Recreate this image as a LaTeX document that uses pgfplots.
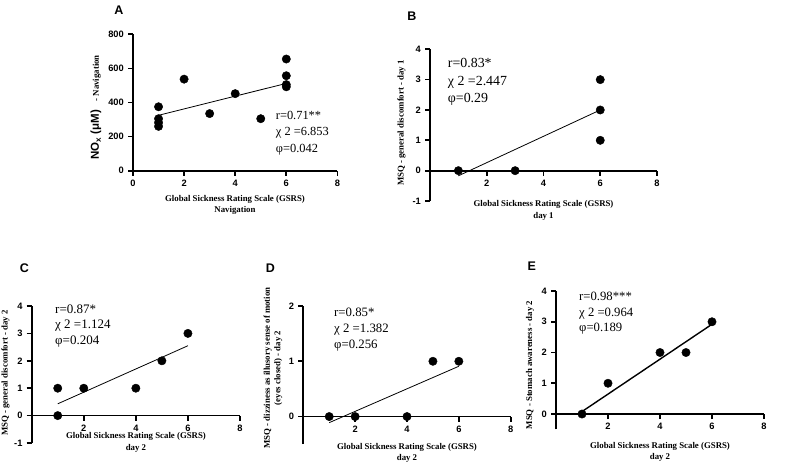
\documentclass[border=0pt]{standalone}
\usepackage{fontspec}
\setmainfont{Liberation Serif}
\setsansfont{Liberation Sans}
\usepackage{pgfplots}
\pgfplotsset{compat=1.18}

% GraphPad-like panel style
\pgfplotsset{
  gp/.style={
    scale only axis, anchor=south west,
    axis y line*=left,
    every axis/.append style={line width=1.7pt},
    x axis line style={line width=1.7pt, black},
    y axis line style={line width=1.7pt, black},
    tick style={line width=1.7pt, black},
    major tick length=5pt,
    tick align=outside,
    xmin=0, xmax=8,
    ticklabel style={font=\sffamily\bfseries\fontsize{9.3}{9.3}\selectfont},
    /pgf/number format/assume math mode=true,
    clip=false,
  },
  dots/.style={only marks, mark=*, mark size=4.2pt, black, line width=0.4pt},
  fit/.style={black, line width=0.8pt, no marks},
}
\tikzset{
  note/.style={anchor=west, inner sep=0pt, align=left},
  lab/.style={inner sep=0pt, align=center, font=\bfseries\fontsize{8.8}{11.4}\selectfont},
  letter/.style={inner sep=0pt, font=\sffamily\bfseries\fontsize{12.5}{12.5}\selectfont},
}

\begin{document}
\begin{tikzpicture}
\path[use as bounding box] (0,0) rectangle (797pt,474pt);

% ---------------- A
\begin{axis}[gp, at={(133pt,303.3pt)}, width=204.4pt, height=136.4pt,
  axis x line*=bottom,
  ymin=0, ymax=800, xtick={0,2,4,6,8}, ytick={0,200,400,600,800}]
\addplot[dots] coordinates {
  (1,375) (1,305) (1,282) (1,260) (2,537) (3,335) (4,452) (5,305)
  (6,655) (6,557) (6,505) (6,492)};
\addplot[fit] coordinates {(1,325) (6,512)};
\end{axis}

% ---------------- B
\begin{axis}[gp, at={(430pt,273pt)}, width=227pt, height=151.7pt,
  axis x line*=middle,
  ymin=-1, ymax=4, xtick={2,4,6,8}, ytick={-1,0,1,2,3,4}]
\addplot[dots] coordinates {(1,0) (3,0) (6,3) (6,2) (6,1)};
\addplot[fit] coordinates {(1,-0.17) (6,2.0)};
\end{axis}

% ---------------- C
\begin{axis}[gp, at={(31.7pt,31pt)}, width=208.3pt, height=137pt,
  axis x line*=middle,
  ymin=-1, ymax=4, xtick={2,4,6,8}, ytick={-1,0,1,2,3,4}]
\addplot[dots] coordinates {(1,1) (1,0) (2,1) (4,1) (5,2) (6,3)};
\addplot[fit] coordinates {(1,0.43) (6,2.55)};
\end{axis}

% ---------------- D
\begin{axis}[gp, at={(303.3pt,29.8pt)}, width=207.4pt, height=138.2pt,
  axis x line*=middle,
  ymin=-0.5, ymax=2, xtick={2,4,6,8}, ytick={0,1,2}]
\addplot[dots] coordinates {(1,0) (2,0) (4,0) (5,1) (6,1)};
\addplot[fit] coordinates {(1,-0.11) (6,0.91)};
\end{axis}

% ---------------- E
\begin{axis}[gp, at={(556pt,44.6pt)}, width=208pt, height=138.4pt,
  axis x line*=middle,
  ymin=-0.5, ymax=4, xtick={2,4,6,8}, ytick={0,1,2,3,4}]
\addplot[dots] coordinates {(1,0) (2,1) (4,2) (5,2) (6,3)};
\addplot[fit, line width=1.4pt] coordinates {(1,0.08) (6,2.92)};
\end{axis}

% panel letters
\node[letter] at (119pt,464pt) {A};
\node[letter] at (412pt,457.5pt) {B};
\node[letter] at (24.5pt,205.5pt) {C};
\node[letter] at (270.5pt,205.5pt) {D};
\node[letter] at (531.7pt,208pt) {E};

% x labels
\node[lab] at (235pt,269pt) {Global Sickness Rating Scale (GSRS)\\Navigation};
\node[lab] at (543.5pt,263.7pt) {Global Sickness Rating Scale (GSRS)\\day 1};
\node[lab] at (136pt,31.8pt) {Global Sickness Rating Scale (GSRS)\\day 2};
\node[lab] at (407pt,21.3pt) {Global Sickness Rating Scale (GSRS)\\day 2};
\node[lab] at (660pt,22.3pt) {Global Sickness Rating Scale (GSRS)\\day 2};

% y labels
\node[lab, rotate=90] at (96pt,366.5pt) {{\sffamily\fontsize{11.5}{11.5}\selectfont NO\textsubscript{x} (μM)}\quad - Navigation};
\node[lab, rotate=90] at (401.5pt,351pt) {MSQ - general discomfort - day 1};
\node[lab, rotate=90] at (5.5pt,101pt) {MSQ - general discomfort - day 2};
\node[lab, rotate=90, font=\bfseries\fontsize{8.8}{10.5}\selectfont] at (273pt,106pt) {MSQ - dizziness as illusory sense of motion\\(eyes closed) - day 2};
\node[lab, rotate=90] at (530pt,109pt) {MSQ - Stomach awareness - day 2};

% statistics
\node[note, font=\fontsize{12.4}{16.5}\selectfont] at (275.7pt,341pt) {r=0.71**\\χ 2 =6.853\\φ=0.042};
\node[note, font=\fontsize{13.9}{17.3}\selectfont] at (447.7pt,392pt) {r=0.83*\\χ 2 =2.447\\φ=0.29};
\node[note, font=\fontsize{13}{15.5}\selectfont] at (55pt,148.3pt) {r=0.87*\\χ 2 =1.124\\φ=0.204};
\node[note, font=\fontsize{12.8}{16}\selectfont] at (334pt,144pt) {r=0.85*\\χ 2 =1.382\\φ=0.256};
\node[note, font=\fontsize{12.7}{15.7}\selectfont] at (579pt,160.7pt) {r=0.98***\\χ 2 =0.964\\φ=0.189};
\end{tikzpicture}
\end{document}
